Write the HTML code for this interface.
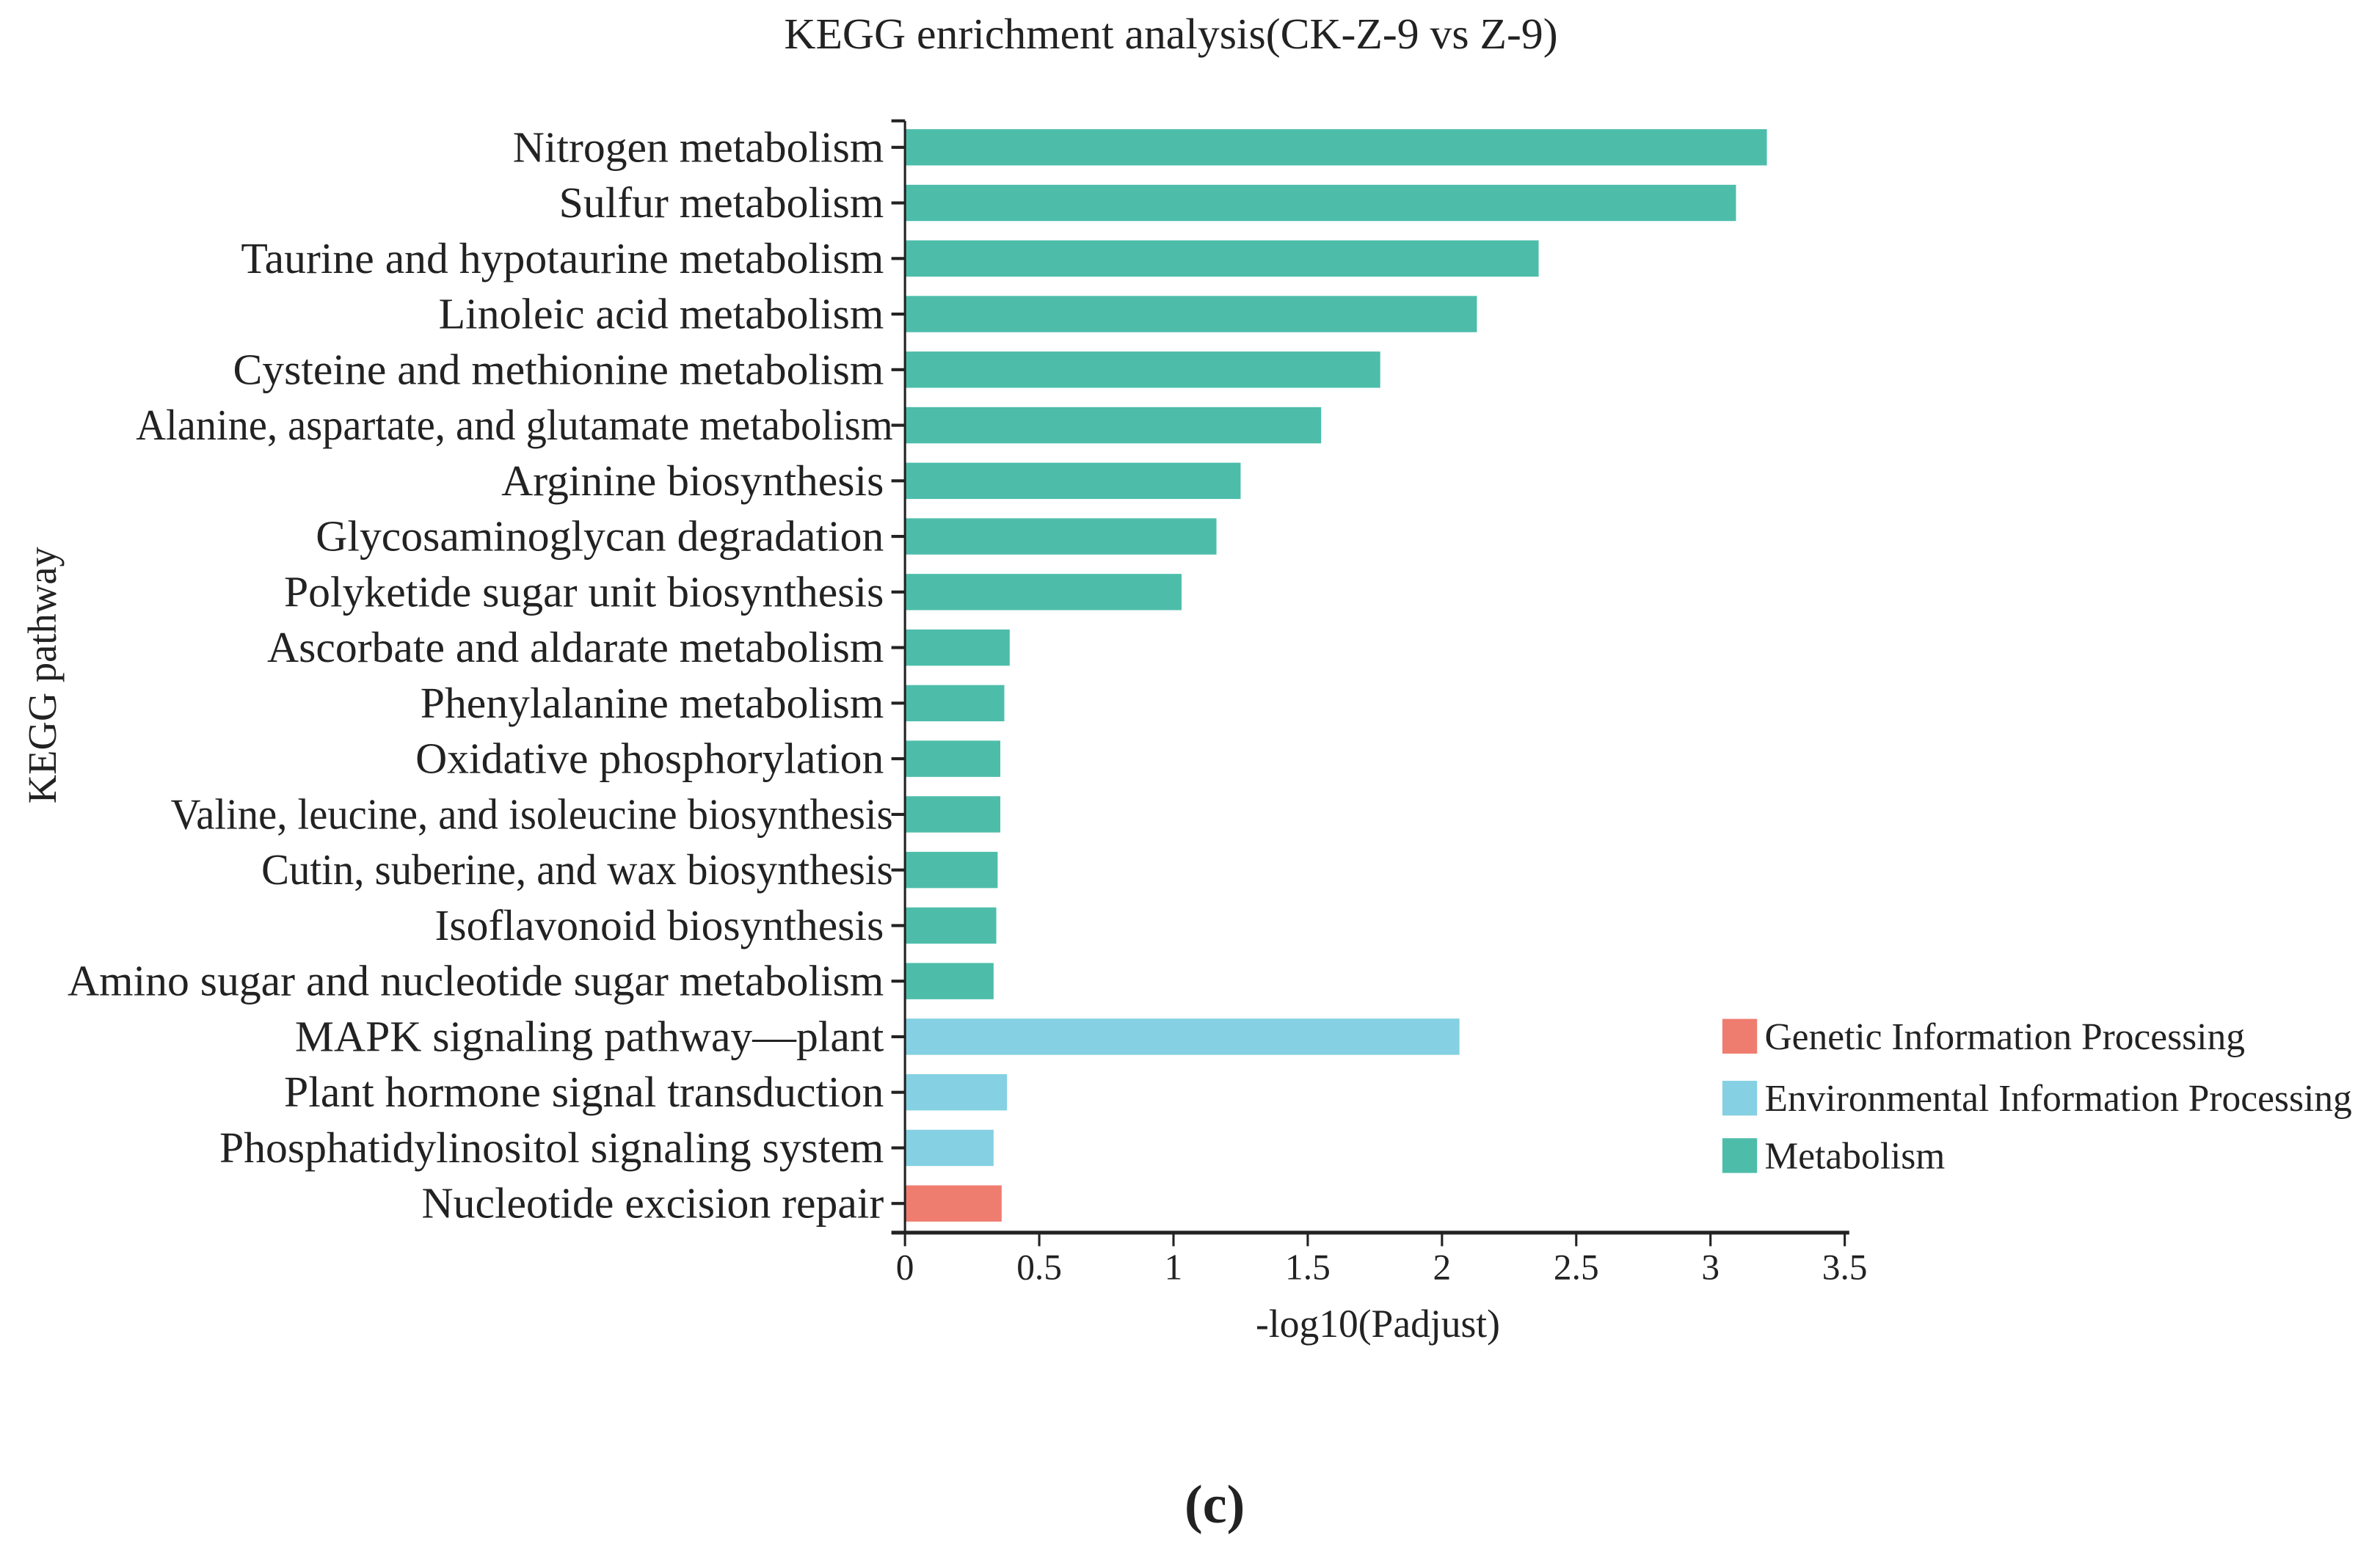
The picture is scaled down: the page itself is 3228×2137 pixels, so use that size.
<!DOCTYPE html>
<html><head><meta charset="utf-8"><style>
html,body{margin:0;padding:0;background:#fff;}
svg{display:block;}
text{font-family:"Liberation Serif",serif;fill:#222;}
</style></head><body>
<svg id="chart" width="3228" height="2137" viewBox="0 0 1568 1038" xmlns="http://www.w3.org/2000/svg">
<rect width="1568" height="1038" fill="#fff"/>
<text x="775" y="32" font-size="29" text-anchor="middle">KEGG enrichment analysis(CK-Z-9 vs Z-9)</text>
<text transform="translate(37,447) rotate(-90)" font-size="26.5" text-anchor="middle">KEGG pathway</text>
<text x="912" y="885" font-size="26" text-anchor="middle">-log10(Padjust)</text>
<text x="804" y="1008" font-size="36" font-weight="bold" text-anchor="middle">(c)</text>
<g id="bars"></g>
<g id="axes"></g>
<g id="legend"></g>
</svg>
<script>
const categories = ["Nitrogen metabolism","Sulfur metabolism","Taurine and hypotaurine metabolism","Linoleic acid metabolism","Cysteine and methionine metabolism","Alanine, aspartate, and glutamate metabolism","Arginine biosynthesis","Glycosaminoglycan degradation","Polyketide sugar unit biosynthesis","Ascorbate and aldarate metabolism","Phenylalanine metabolism","Oxidative phosphorylation","Valine, leucine, and isoleucine biosynthesis","Cutin, suberine, and wax biosynthesis","Isoflavonoid biosynthesis","Amino sugar and nucleotide sugar metabolism","MAPK signaling pathway\u2014plant","Plant hormone signal transduction","Phosphatidylinositol signaling system","Nucleotide excision repair"];
const values = [3.21,3.095,2.36,2.13,1.77,1.55,1.25,1.16,1.03,0.39,0.37,0.355,0.355,0.345,0.34,0.33,2.065,0.38,0.33,0.36];
const groups = [2,2,2,2,2,2,2,2,2,2,2,2,2,2,2,2,1,1,1,0];
const groupNames = ["Genetic Information Processing","Environmental Information Processing","Metabolism"];
const groupColors = ["#EF7D6F","#85D0E3","#4DBDAA"];
const xTicks = [0,0.5,1,1.5,2,2.5,3,3.5];

const NS="http://www.w3.org/2000/svg";
const x0=599, x1=1221, xMax=3.5;
const yTop=80, yBot=816, step=36.8, firstY=97.5, barH=24;
function xs(v){return x0+(v/xMax)*(x1-x0);}
function ys(i){return firstY+i*step;}
function mk(tag,attrs,parent){const e=document.createElementNS(NS,tag);for(const k in attrs)e.setAttribute(k,attrs[k]);parent.appendChild(e);return e;}
const bars=document.getElementById('bars'), axes=document.getElementById('axes'), legend=document.getElementById('legend');
const wideLen={5:501,12:478,13:418};
categories.forEach((c,i)=>{
  const r=mk('rect',{x:x0,y:ys(i)-barH/2,width:xs(values[i])-x0,height:barH,fill:groupColors[groups[i]]},bars);
  
  
  const t=mk('text',{x:(i in wideLen)?591:585,y:ys(i)+9.5,'font-size':29,'text-anchor':'end'},axes);
  if(i in wideLen){t.setAttribute('textLength',wideLen[i]);t.setAttribute('lengthAdjust','spacingAndGlyphs');}
  t.textContent=c;
  
  
  const tk=mk('line',{x1:590,x2:x0,y1:ys(i),y2:ys(i),stroke:'#222','stroke-width':2},axes);
  
  
});
const ya=mk('line',{x1:x0,x2:x0,y1:yTop,y2:yBot,stroke:'#222','stroke-width':1.5},axes);


const yt=mk('line',{x1:590,x2:x0,y1:yTop,y2:yTop,stroke:'#222','stroke-width':2},axes);


const xa=mk('line',{x1:590,x2:x1+3,y1:yBot,y2:yBot,stroke:'#222','stroke-width':2.5},axes);


xTicks.forEach(v=>{
  const l=mk('line',{x1:xs(v),x2:xs(v),y1:yBot,y2:yBot+9,stroke:'#222','stroke-width':1.5},axes);
  
  
  const t=mk('text',{x:xs(v),y:847,'font-size':24,'text-anchor':'middle'},axes);
  t.textContent=String(v);
  
  
});
const legY=[686,727,765];
groupNames.forEach((g,i)=>{
  const r=mk('rect',{x:1140,y:legY[i]-11.5,width:23,height:23,fill:groupColors[i]},legend);
  
  
  const t=mk('text',{x:1168,y:legY[i]+8.5,'font-size':25},legend);
  t.textContent=g;
  
  
});
</script>
</body></html>
